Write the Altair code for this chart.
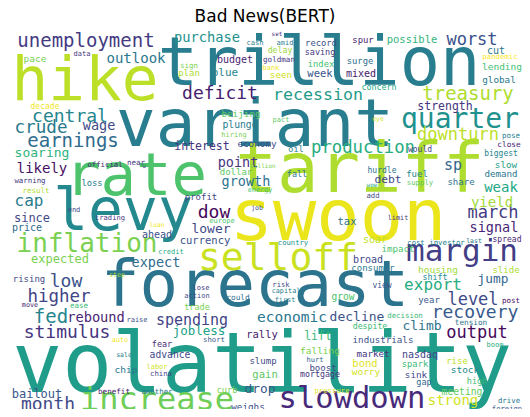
import altair as alt
import pandas as pd

# word cloud "Bad News(BERT)" : word, layout centre x, baseline y (cloud pixels), font size, viridis tone
words = ["volatility","trillion","hike","variant","rate","levy","swoon","tariff","forecast","selloff",
         "inflation","margin","increase","slowdown","unemployment","quarter","treasury","deficit","recession","worst",
         "downturn","central","crude","earnings","stimulus","higher","fed","low","month","output",
         "recovery","level","export","production","spending","economic","outlook","purchase","likely","soaring",
         "expect","rebound","jobless","decline","climb","dow","point","growth","lower","strong",
         "signal","march","yield","weak","sp","jump","cap","since","expected","bailout",
         "lift","rally","drop","gain","strength","interest","currency","wage","blue","budget",
         "ahead","debt","price","bond","nasdaq","stock","soar","broad","tax","chip",
         "advance","meeting","weighs","week","mixed","lending","global","possible","cut","record",
         "saving","index","seen","delay","surge","spur","concern","pandemic","eye","pose",
         "close","biggest","would","hurdle","fuel","slow","demand","supply","share","woe",
         "add","limit","cost","investor","last","spread","impact","consumer","housing","slide",
         "shift","view","year","post","decision","tension","despite","industrials","boom","market",
         "rise","spark","worry","sink","gap","high","drive","foreign","pressure","curb",
         "mortgage","boost","hurt","slump","falling","grow","first","could","trade","capital",
         "risk","lose","action","short","country","job","europe","profit","energy","fall",
         "dollar","billion","oil","economy","hiring","plunge","beijing","pact","sign","plan",
         "cash","set","amid","goldman","bank","data","pace","decade","near","official",
         "u","warning","loss","result","end","trading","loan","credit","step","rising",
         "move","ease","raise","auto","fear","sale","labor","china","benefit","another"]

xs = [262,319,85,255,136,123,338,360,255,278,
      87,462,157,352,86,460,468,220,318,472,
      458,70,41,73,67,59,51,66,48,477,
      475,473,433,363,192,292,136,207,42,42,
      156,96,199,357,422,214,238,246,211,453,
      494,493,492,501,453,493,29,32,60,37,
      318,262,260,265,445,202,205,99,225,235,
      157,388,27,365,420,465,375,368,347,126,
      170,462,248,320,361,502,499,412,496,321,
      320,321,281,280,360,363,379,500,378,511,
      509,501,420,382,417,506,501,420,461,372,
      373,398,416,447,474,507,398,373,438,506,
      435,382,429,511,405,471,370,383,495,373,
      457,415,366,416,424,477,509,507,332,227,
      320,323,315,263,320,343,285,238,197,286,
      281,201,197,214,293,257,222,201,260,297,
      236,263,296,257,234,240,241,281,189,189,
      255,277,285,279,271,82,35,45,136,105,
      144,30,92,36,74,110,157,171,117,29,
      30,79,137,120,162,124,157,161,114,157]

ys = [392,85,100,146,195,230,240,192,306,270,
      252,261,410,408,47,128,100,99,100,45,
      140,122,133,147,338,302,323,287,410,338,
      318,305,290,153,325,322,63,42,173,157,
      267,322,335,321,330,218,167,186,233,405,
      232,218,207,192,170,283,206,222,263,398,
      340,338,393,378,110,150,244,130,76,63,
      238,183,231,367,358,373,243,263,225,373,
      358,395,410,77,77,70,83,43,54,46,
      55,67,78,53,64,43,90,59,121,138,
      147,156,152,173,177,168,177,185,185,187,
      198,220,245,245,243,242,252,271,273,273,
      280,288,303,303,318,325,329,343,347,357,
      364,367,375,378,385,384,403,411,393,393,
      377,371,362,364,354,300,302,300,310,293,
      287,290,298,342,245,210,223,200,192,177,
      175,168,152,147,137,128,117,122,68,76,
      45,36,45,62,70,56,62,109,165,167,
      168,183,186,193,212,220,227,254,277,282,
      307,308,322,342,347,357,369,376,394,394]

sizes = [83,67,61,66,59,58,72,69,64,38,
         26,31,32,30.5,19,28,19,18,16.6,17,
         17,18,17.6,19,18,17.5,19,18,18,17,
         18,17,16,17.3,15,14.5,14,13.7,14,13,
         13.5,13.7,12.5,13,13,18,13.5,13.5,13,14,
         13.5,17,14,14,15,12.8,16,12,12,12,
         11.5,10.5,12.8,10.6,11.5,11.5,10.5,13.5,11,10,
         10,11.3,10,10.5,10,9.5,10,10,10.5,9.5,
         9.7,9.7,9.3,10.5,10,9.5,9.3,10.5,10,8.8,
         8.5,8.8,9.3,8.2,8.8,8.9,8.3,7.3,6.5,7.5,
         7.8,8,8,8,9,9.3,9.2,7.3,9,6,
         7.3,6.8,7.2,7.4,6.5,8,9.2,9,9.5,9,
         8.3,8,9,7.5,7.4,7.7,8.2,9.2,7,9.2,
         9,8.8,9.5,9.3,8.5,8.5,7.4,7.2,7.3,8.8,
         8.3,9,7,9,9.5,9.6,6.8,7.7,8.5,6.8,
         7.2,7,7,7.3,7.2,6.5,7,9,6.8,8.5,
         9,6,8.5,9.3,7,9.7,9.3,7,7.5,9,
         7,6,7,7.6,7,7,9.5,8,7.5,7.3,
         6,7.4,8.8,7.5,7,7.1,6.3,7,6.5,9,
         6.8,7.5,7,6.8,8.5,6.5,7,7.3,7.6,7.4]

tones = [0.55,0.42,0.9,0.42,0.72,0.47,0.97,0.88,0.38,0.92,
         0.8,0.18,0.78,0.12,0.17,0.5,0.88,0.08,0.55,0.25,
         0.9,0.45,0.4,0.35,0.15,0.2,0.45,0.25,0.22,0.02,
         0.28,0.22,0.62,0.62,0.2,0.4,0.4,0.5,0.04,0.65,
         0.35,0.1,0.58,0.25,0.38,0.02,0.15,0.38,0.22,0.93,
         0.1,0.17,0.86,0.6,0.32,0.32,0.42,0.22,0.8,0.27,
         0.68,0.06,0.27,0.75,0.15,0.15,0.25,0.22,0.45,0.1,
         0.25,0.22,0.35,0.95,0.2,0.47,0.9,0.22,0.38,0.4,
         0.22,0.76,0.25,0.27,0.06,0.7,0.4,0.65,0.4,0.25,
         0.17,0.7,0.93,0.85,0.36,0.08,0.6,1.0,0.93,0.42,
         0.1,0.45,0.2,0.38,0.45,0.56,0.4,0.75,0.38,0.6,
         0.22,0.17,0.42,0.45,0.38,0.1,0.72,0.4,0.86,0.88,
         0.48,0.27,0.27,0.03,0.68,0.38,0.68,0.25,0.62,0.15,
         0.9,0.68,0.93,0.22,0.33,0.68,0.4,0.25,0.95,0.8,
         0.15,0.22,0.33,0.22,0.8,0.72,0.42,0.35,0.8,0.42,
         0.22,0.17,0.22,0.3,0.5,0.25,0.72,0.2,0.7,0.38,
         0.75,0.8,0.42,0.22,0.8,0.42,0.75,0.75,0.8,0.88,
         0.42,0.1,0.42,0.15,0.98,0.15,0.8,0.98,0.15,0.1,
         0.2,0.15,0.42,0.88,0.22,0.15,0.98,0.62,0.88,0.22,
         0.08,0.68,0.25,0.98,0.12,0.42,0.93,0.22,0.08,0.4]

df = pd.DataFrame({"word": words, "x": xs, "y": ys, "size": sizes, "tone": tones})

chart = alt.Chart(df).mark_text(
    font="DejaVu Sans Mono", align="center", baseline="alphabetic"
).encode(
    x=alt.X("x:Q", scale=alt.Scale(domain=[8, 522], nice=False, zero=False), axis=None),
    y=alt.Y("y:Q", scale=alt.Scale(domain=[24, 409], nice=False, zero=False, reverse=True), axis=None),
    size=alt.Size("size:Q", scale=None, legend=None),
    color=alt.Color("tone:Q", scale=alt.Scale(scheme="viridis", domain=[0, 1]), legend=None),
    text="word:N",
).properties(
    width=514, height=385,
    title=alt.TitleParams("Bad News(BERT)", font="DejaVu Sans", fontSize=17, fontWeight="normal",
                          color="black", anchor="middle", offset=-2),
    padding={"left": 0, "top": 16, "right": 0, "bottom": 0},
    autosize=alt.AutoSizeParams(type="none"),
    background="white",
).configure_view(strokeWidth=0)

chart.save("out.html", embed_options={"renderer": "svg", "actions": False})
